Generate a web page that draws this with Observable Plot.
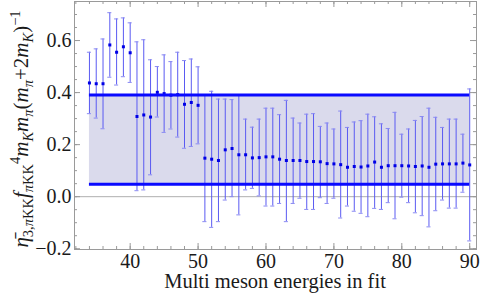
<!DOCTYPE html>
<html>
<head>
<meta charset="utf-8">
<script src="https://cdn.jsdelivr.net/npm/d3@7"></script>
<script src="https://cdn.jsdelivr.net/npm/@observablehq/plot@0.6"></script>
<style>
  html, body { margin: 0; padding: 0; background: white; }
  svg { display: block; }
</style>
</head>
<body>
<div id="chart"></div>
<script>
// ---- data ----
const xs = [34,35,36,37,38,39,40,41,42,43,44,45,46,47,48,49,50,51,52,53,54,55,56,57,58,59,60,61,62,63,64,65,66,67,68,69,70,71,72,73,74,75,76,77,78,79,80,81,82,83,84,85,86,87,88,89,90];
const vals = [0.437,0.434,0.434,0.583,0.555,0.576,0.553,0.308,0.314,0.306,0.401,0.396,0.390,0.392,0.355,0.362,0.351,0.148,0.144,0.139,0.180,0.185,0.161,0.161,0.149,0.150,0.153,0.153,0.144,0.139,0.139,0.139,0.135,0.135,0.134,0.127,0.126,0.123,0.113,0.116,0.114,0.118,0.133,0.113,0.119,0.119,0.119,0.118,0.116,0.118,0.113,0.125,0.126,0.126,0.126,0.129,0.122];
const highs = [0.555,0.568,0.606,0.707,0.683,0.687,0.668,0.595,0.603,0.526,0.500,0.545,0.519,0.555,0.523,0.529,0.499,0.392,0.405,0.375,0.375,0.373,0.392,0.298,0.267,0.298,0.340,0.340,0.315,0.370,0.302,0.283,0.317,0.319,0.270,0.283,0.260,0.329,0.266,0.287,0.292,0.317,0.307,0.280,0.262,0.324,0.240,0.260,0.293,0.308,0.340,0.305,0.266,0.298,0.298,0.240,0.414];
const lows = [0.319,0.302,0.261,0.459,0.429,0.461,0.439,0.023,0.026,0.084,0.306,0.247,0.260,0.229,0.186,0.193,0.203,-0.096,-0.118,-0.096,-0.013,0.000,-0.070,0.026,0.032,0.003,-0.036,-0.036,-0.026,-0.096,-0.026,-0.006,-0.049,-0.049,-0.004,-0.026,-0.006,-0.082,-0.036,-0.056,-0.064,-0.077,-0.045,-0.049,-0.023,-0.085,-0.002,-0.023,-0.062,-0.073,-0.116,-0.054,-0.013,-0.044,-0.044,0.017,-0.170];
const bandX = [34, 90];
const bandLow = 0.048;
const bandHigh = 0.391;
const xTicks = [40, 50, 60, 70, 80, 90];
const yTicks = [-0.2, 0.0, 0.2, 0.4, 0.6];
const xMinorTicks = d3.range(32, 91, 2);
const yMinorTicks = d3.range(-0.2, 0.751, 0.05);
const xTitle = "Multi meson energies in fit";

// ---- build tables ----
const points = xs.map((x, i) => ({x, y: vals[i], lo: lows[i], hi: highs[i]}));
const band = bandX.map(x => ({x, y1: bandLow, y2: bandHigh}));

const FONT = "'Times New Roman', 'Liberation Serif', Times, 'DejaVu Serif', serif";
const W = 480, H = 298, mL = 74, mR = 4, mT = 1, mB = 49;
const fw = W - mL - mR, fh = H - mT - mB;
const grey = "#9a9a9a";
const ink = "#1a1a1a";

const svg = Plot.plot({
  width: W, height: H,
  marginLeft: mL, marginRight: mR, marginTop: mT, marginBottom: mB,
  style: {fontFamily: FONT, background: "white", color: ink},
  x: {domain: [31.8, 91.0], label: null},
  y: {domain: [-0.203, 0.750], label: null},
  marks: [
    Plot.areaY(band, {x: "x", y1: "y1", y2: "y2", fill: "#dadaec"}),
    Plot.ruleY([0], {stroke: "#b0b0b0", strokeWidth: 1}),
    Plot.ruleX(points, {x: "x", y1: "lo", y2: "hi", stroke: "#5a5af2", strokeWidth: 1}),
    Plot.ruleY(points, {y: "hi", x1: d => d.x - 0.3, x2: d => d.x + 0.3, stroke: "#8a8af2"}),
    Plot.ruleY(points, {y: "lo", x1: d => d.x - 0.3, x2: d => d.x + 0.3, stroke: "#8a8af2"}),
    Plot.dot(points, {x: "x", y: "y", symbol: "square", r: 1.7, fill: "#0000e6", stroke: "none"}),
    Plot.ruleY([bandLow, bandHigh], {x1: bandX[0], x2: bandX[1], stroke: "#0a0aff", strokeWidth: 3}),
    // frame ticks (inward) — left/right
    Plot.tickY(yMinorTicks, {insetRight: fw - 3, stroke: grey}),
    Plot.tickY(yMinorTicks, {insetLeft: fw - 3, stroke: grey}),
    Plot.tickY(yTicks, {insetRight: fw - 6, stroke: grey}),
    Plot.tickY(yTicks, {insetLeft: fw - 6, stroke: grey}),
    // bottom/top
    Plot.tickX(xMinorTicks, {insetTop: fh - 3, stroke: grey}),
    Plot.tickX(xMinorTicks, {insetBottom: fh - 3, stroke: grey}),
    Plot.tickX(xTicks, {insetTop: fh - 6, stroke: grey}),
    Plot.tickX(xTicks, {insetBottom: fh - 6, stroke: grey}),
    Plot.frame({stroke: grey}),
    Plot.axisX(xTicks, {tickSize: 0, tickPadding: 4, fontSize: 20, fontFamily: FONT, label: null, tickFormat: d => String(d)}),
    Plot.axisY(yTicks, {tickSize: 0, tickPadding: 3, fontSize: 20, fontFamily: FONT, label: null, tickFormat: d3.format(".1f")})
  ]
});

const s = d3.select(svg);
// x title
s.append("text")
  .attr("x", mL + fw / 2).attr("y", 288)
  .attr("text-anchor", "middle")
  .attr("font-family", FONT)
  .attr("font-size", 20.5)
  .attr("fill", ink)
  .text(xTitle);

// y title (math)
const yt = s.append("text")
  .attr("transform", "translate(28,129) rotate(-90)")
  .attr("text-anchor", "middle")
  .attr("font-family", FONT)
  .attr("font-size", 21)
  .attr("fill", ink);
let shift = 0;
function part(txt, level, italic) {
  const target = level === "sub" ? 5 : level === "sup" ? -8 : 0;
  const t = yt.append("tspan").attr("dy", target - shift).text(txt);
  shift = target;
  if (level) t.attr("font-size", 14.5);
  if (italic) t.attr("font-style", "italic");
}
part("\u03B7\u0304", null, true);
part("3,", "sub", false); part("\u03C0", "sub", true); part("KK", "sub", false);
part("f", null, true);
part("\u03C0", "sub", true); part("KK", "sub", false);
part("4", "sup", false);
part("m", null, true); part("K", "sub", true);
part("m", null, true); part("\u03C0", "sub", true);
part("(", null, false); part("m", null, true); part("\u03C0", "sub", true);
part("+2", null, false); part("m", null, true); part("K", "sub", true);
part(")", null, false); part("\u22121", "sup", false);

document.getElementById("chart").appendChild(svg);
</script>
</body>
</html>
